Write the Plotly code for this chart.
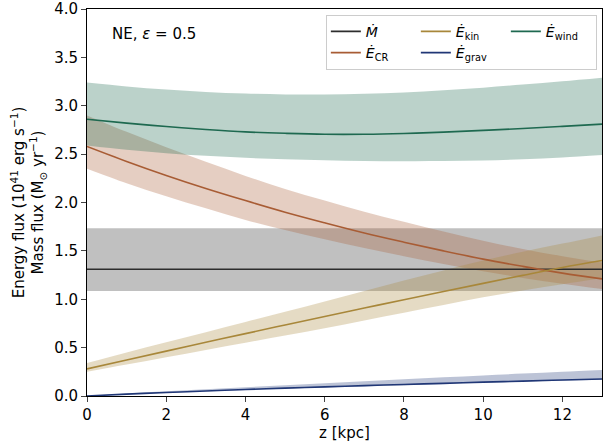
import plotly.graph_objects as go

# ---------------- data ----------------
z = [0, 1, 2, 3, 4, 5, 6, 7, 8, 9, 10, 11, 12, 13]

mdot = [1.31] * 14
mdot_lo = [1.085] * 14
mdot_hi = [1.735] * 14

ecr = [2.58, 2.425, 2.28, 2.145, 2.02, 1.90, 1.79, 1.685, 1.59, 1.50, 1.415, 1.34, 1.27, 1.21]
ecr_lo = [2.35, 2.20, 2.065, 1.94, 1.82, 1.715, 1.62, 1.53, 1.445, 1.365, 1.29, 1.22, 1.16, 1.105]
ecr_hi = [2.90, 2.73, 2.57, 2.42, 2.275, 2.14, 2.02, 1.905, 1.80, 1.70, 1.605, 1.52, 1.445, 1.38]

ekin = [0.28, 0.372, 0.464, 0.555, 0.645, 0.734, 0.822, 0.909, 0.995, 1.08, 1.164, 1.247, 1.329, 1.40]
ekin_lo = [0.25, 0.325, 0.40, 0.475, 0.55, 0.625, 0.70, 0.78, 0.86, 0.94, 1.02, 1.09, 1.155, 1.22]
ekin_hi = [0.34, 0.45, 0.555, 0.66, 0.765, 0.87, 0.978, 1.086, 1.193, 1.298, 1.40, 1.49, 1.575, 1.66]

egrav = [0.0, 0.019, 0.036, 0.052, 0.067, 0.081, 0.094, 0.107, 0.119, 0.131, 0.143, 0.154, 0.165, 0.176]
egrav_lo = [0.0, 0.017, 0.033, 0.048, 0.062, 0.075, 0.088, 0.1, 0.112, 0.124, 0.136, 0.147, 0.158, 0.169]
egrav_hi = [0.0, 0.025, 0.048, 0.07, 0.091, 0.112, 0.133, 0.153, 0.173, 0.193, 0.213, 0.232, 0.251, 0.27]

ewind = [2.86, 2.82, 2.785, 2.755, 2.73, 2.715, 2.705, 2.705, 2.713, 2.727, 2.745, 2.765, 2.787, 2.81]
ewind_lo = [2.59, 2.545, 2.51, 2.482, 2.462, 2.447, 2.437, 2.43, 2.427, 2.428, 2.434, 2.447, 2.466, 2.49]
ewind_hi = [3.24, 3.20, 3.168, 3.143, 3.126, 3.117, 3.116, 3.123, 3.138, 3.16, 3.187, 3.219, 3.253, 3.29]

x_ticks = [0, 2, 4, 6, 8, 10, 12]
y_ticks = [0.0, 0.5, 1.0, 1.5, 2.0, 2.5, 3.0, 3.5, 4.0]

# ---------------- style ----------------
FONT = "DejaVu Sans"
series = [
    # name, line, lo, hi, colour(rgb), legendgroup
    ("<i>Ṁ</i>", mdot, mdot_lo, mdot_hi, (45, 45, 45), "g1"),
    ("<i>Ė</i><sub>CR</sub>", ecr, ecr_lo, ecr_hi, (168, 92, 52), "g1"),
    ("<i>Ė</i><sub>kin</sub>", ekin, ekin_lo, ekin_hi, (168, 135, 58), "g2"),
    ("<i>Ė</i><sub>grav</sub>", egrav, egrav_lo, egrav_hi, (32, 55, 118), "g2"),
    ("<i>Ė</i><sub>wind</sub>", ewind, ewind_lo, ewind_hi, (30, 105, 80), "g3"),
]

fig = go.Figure()

# bands first
for name, y, lo, hi, c, g in series:
    rgba = f"rgba({c[0]},{c[1]},{c[2]},0.3)"
    fig.add_trace(go.Scatter(x=z, y=lo, mode="lines", line=dict(width=0, shape="spline"),
                             showlegend=False, hoverinfo="skip"))
    fig.add_trace(go.Scatter(x=z, y=hi, mode="lines", line=dict(width=0, shape="spline"),
                             fill="tonexty", fillcolor=rgba, showlegend=False, hoverinfo="skip"))

# lines on top
for name, y, lo, hi, c, g in series:
    fig.add_trace(go.Scatter(x=z, y=y, mode="lines", name=name, legendgroup=g,
                             line=dict(color=f"rgb({c[0]},{c[1]},{c[2]})", width=1.6, shape="spline")))

fig.update_layout(
    width=603, height=447,
    margin=dict(l=87, r=1, t=9, b=51, autoexpand=False),
    paper_bgcolor="white", plot_bgcolor="white",
    font=dict(family=FONT, size=15, color="black"),
    showlegend=True,
    legend=dict(
        orientation="h", traceorder="grouped",
        x=0.99, xanchor="right", y=0.985, yanchor="top",
        bgcolor="rgba(255,255,255,0.85)", bordercolor="#cccccc", borderwidth=1,
        font=dict(family=FONT, size=14), itemwidth=30, tracegroupgap=0,
        entrywidth=45,
    ),
    xaxis=dict(
        range=[0, 13], tickvals=x_ticks, ticks="outside", ticklen=5, tickwidth=1,
        showline=True, linecolor="black", linewidth=1, mirror=True, showgrid=False,
        zeroline=False, automargin=False,
        title=dict(text="z [kpc]", font=dict(size=15), standoff=4),
        tickfont=dict(size=15),
    ),
    yaxis=dict(
        range=[0, 4], tickvals=y_ticks, tickformat=".1f", ticks="outside", ticklen=5, tickwidth=1,
        showline=True, linecolor="black", linewidth=1, mirror=True, showgrid=False,
        zeroline=False, automargin=False, tickfont=dict(size=15),
        title=dict(text="Energy flux (10<sup>41</sup> erg s<sup>−1</sup>)<br>Mass flux (M<sub>⊙</sub> yr<sup>−1</sup>)",
                   font=dict(size=15), standoff=6),
    ),
    annotations=[dict(text="NE, <i>ε</i> = 0.5", xref="paper", yref="paper", x=0.045, y=0.965,
                      xanchor="left", yanchor="top", showarrow=False, font=dict(size=15))],
)

fig.write_html("out.html", config={"displayModeBar": False},
               post_script="document.body.style.margin='0';")
